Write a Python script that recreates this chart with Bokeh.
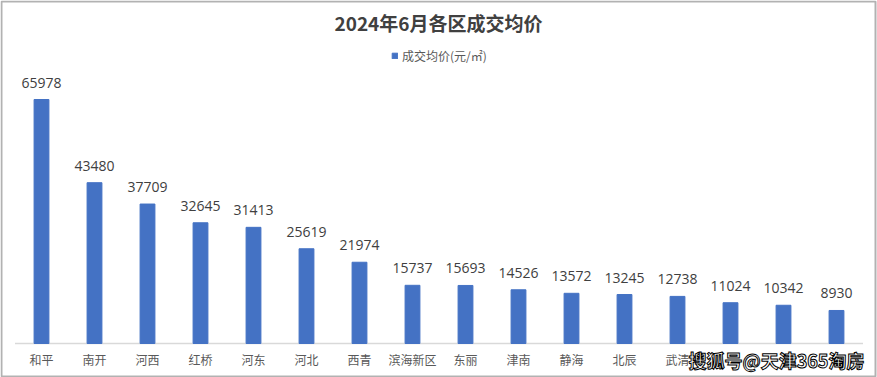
from bokeh.plotting import figure
from bokeh.models import (ColumnDataSource, LabelSet, Label, Legend, LegendItem,
                          Range1d, FactorRange, BoxAnnotation)
from bokeh.core.properties import value
from bokeh.embed import file_html
from bokeh.resources import INLINE

districts = ["和平", "南开", "河西", "红桥", "河东", "河北", "西青", "滨海新区",
             "东丽", "津南", "静海", "北辰", "武清", "宝坻", "宁河", "蓟州"]
avg_price = [65978, 43480, 37709, 32645, 31413, 25619, 21974, 15737,
             15693, 14526, 13572, 13245, 12738, 11024, 10342, 8930]
series_name = "成交均价(元/㎡)"
title_text = "2024年6月各区成交均价"
watermark = "搜狐号@天津365淘房"

NUM = "Open Sans"
CJK = "Noto Sans CJK SC"

W, H = 877, 377
px_per_unit = 244 / max(avg_price)
axis_from_bottom = 34
band = 53

src = ColumnDataSource(dict(d=districts, v=avg_price, t=[str(v) for v in avg_price],
                            z=[0] * len(districts)))

x_range = FactorRange(*districts, range_padding=(W - band * len(districts)) / 2 / band,
                      range_padding_units="absolute")
y_range = Range1d(-axis_from_bottom / px_per_unit, (H - axis_from_bottom) / px_per_unit)

p = figure(x_range=x_range, y_range=y_range, width=W, height=H,
           output_backend="svg", toolbar_location=None,
           min_border=0, x_axis_location=None, y_axis_location=None)
p.outline_line_color = None
p.background_fill_color = "white"
p.border_fill_color = "white"
p.xgrid.visible = False
p.ygrid.visible = False

# category axis line
p.segment(x0=[0], y0=[0], x1=[len(districts)], y1=[0], line_color="#d9d9d9", line_width=1.5)

r = p.vbar(x="d", top="v", width=0.28, source=src, color="#4472C4")

p.add_layout(LabelSet(x="d", y="v", text="t", source=src, y_offset=12,
                      text_align="center", text_baseline="alphabetic",
                      text_font=value(NUM), text_font_size="14px", text_color="#404040"))

p.add_layout(LabelSet(x="d", y="z", text="d", source=src, y_offset=-16,
                      text_align="center", text_baseline="middle",
                      text_font=value(CJK), text_font_size="12px", text_color="#595959"))

legend = Legend(items=[LegendItem(label=series_name, renderers=[r])],
                location=(391, 313), orientation="horizontal",
                glyph_width=7, glyph_height=7, label_standoff=4, padding=0, margin=0,
                spacing=0, label_height=12, border_line_color=None,
                background_fill_alpha=0, label_text_font=CJK,
                label_text_font_size="12px", label_text_color="#595959")
p.add_layout(legend, "center")

p.add_layout(Label(x=438, y=H - 22, x_units="screen", y_units="screen", text=title_text,
                   text_align="center", text_baseline="middle", text_font=CJK,
                   text_font_size="19px", text_font_style="bold", text_color="#404040"))

p.add_layout(Label(x=688, y=H - 359, x_units="screen", y_units="screen", text=watermark,
                   text_align="left", text_baseline="middle", text_font=CJK,
                   text_font_size="18px", text_font_style="bold", text_color="white",
                   text_outline_color="black", background_fill_color="white"))

p.add_layout(BoxAnnotation(left=1, right=W - 2, bottom=1, top=H - 1,
                           left_units="screen", right_units="screen",
                           bottom_units="screen", top_units="screen",
                           fill_alpha=0, line_color="black", line_width=2))

open("out.html", "w").write(file_html(p, INLINE))
